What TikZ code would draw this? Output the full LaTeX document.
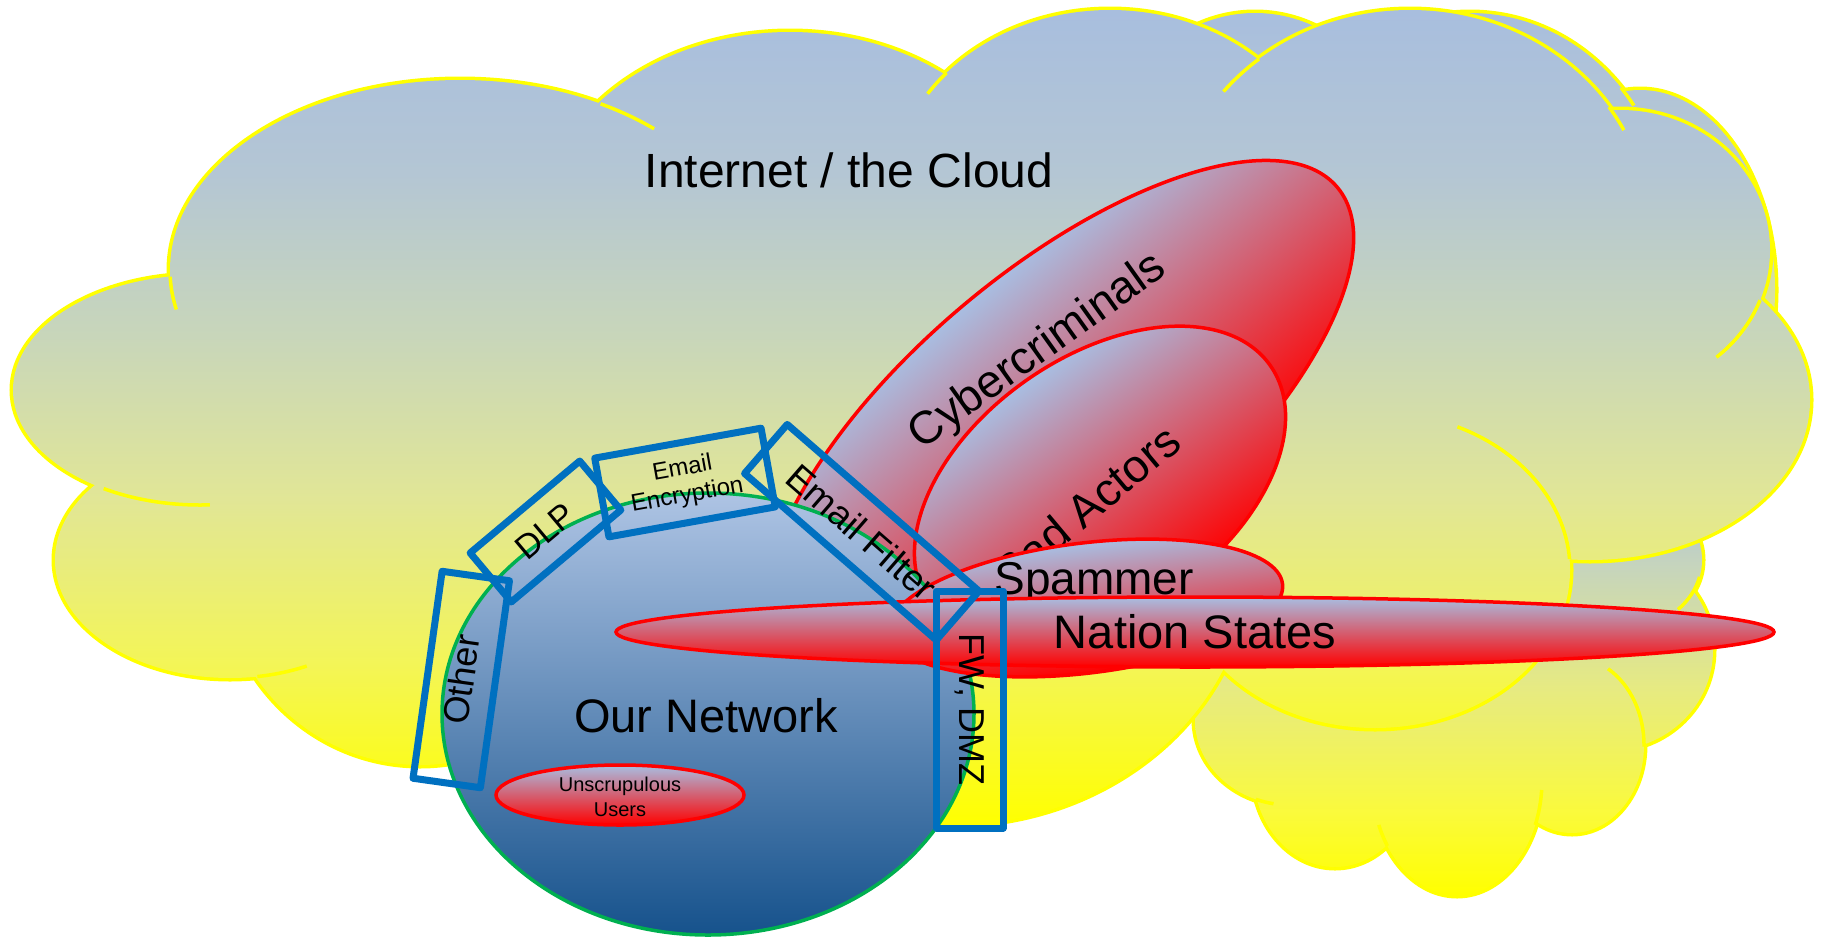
\documentclass[tikz,border=0pt]{standalone}
\usepackage{fontspec}
\setmainfont{Liberation Sans}
\usetikzlibrary{shapes.geometric}
\definecolor{cblue}{RGB}{168,190,222}
\definecolor{cyel}{RGB}{255,255,0}
\definecolor{boxblue}{RGB}{0,112,192}
\definecolor{netgreen}{RGB}{0,176,80}
\definecolor{nettop}{RGB}{174,196,228}
\definecolor{netmid}{RGB}{130,158,196}
\definecolor{netbot}{RGB}{22,82,140}
\definecolor{tblue}{RGB}{168,190,226}
\definecolor{tmid}{RGB}{222,132,152}
\definecolor{tred}{RGB}{255,0,0}
\pgfdeclareverticalshading{cloudsh}{100bp}{%
  color(0bp)=(cyel); color(25bp)=(cyel);
  color(35bp)=(rgb,255:red,243;green,245;blue,88);
  color(45bp)=(rgb,255:red,225;green,230;blue,150);
  color(55bp)=(rgb,255:red,200;green,214;blue,186);
  color(65bp)=(rgb,255:red,180;green,198;blue,212);
  color(75bp)=(cblue); color(100bp)=(cblue)}
\pgfdeclareverticalshading{cloudtwosh}{100bp}{%
  color(0bp)=(cyel); color(25bp)=(cyel);
  color(35bp)=(rgb,255:red,250;green,250;blue,60);
  color(50bp)=(rgb,255:red,230;green,234;blue,130);
  color(65bp)=(rgb,255:red,197;green,212;blue,190);
  color(75bp)=(cblue); color(100bp)=(cblue)}
\tikzset{
  cloudedge/.style={draw=cyel, line width=7pt},
  cloudstub/.style={draw=cyel, line width=3.5pt},
  threatfill/.style={top color=tblue, middle color=tmid, bottom color=tred},
  threatedge/.style={draw=tred, line width=3.5pt},
  ctrlbox/.style={rectangle, draw=boxblue, line width=7pt, inner sep=0pt, align=center, line join=round},
  lbl/.style={text=black, inner sep=0pt, align=center},
}
\begin{document}
\begin{tikzpicture}[x=1pt,y=-1pt]
\useasboundingbox (0,0) rectangle (1822,940);

% ---------------- back cloud (top right) ----------------
\foreach \cx/\cy/\rx/\ry in {1255/200/160/187,1470/230/200/217,1640/290/135/200,1450/350/280/200}
  {\draw[cloudedge] (\cx,\cy) ellipse [x radius=\rx, y radius=\ry];}
\shade[shading=cloudsh]
  (1255,200) ellipse [x radius=160, y radius=187]
  (1470,230) ellipse [x radius=200, y radius=217]
  (1640,290) ellipse [x radius=135, y radius=200]
  (1450,350) ellipse [x radius=280, y radius=200];
\draw[cloudstub] (1470,230) ++(-41:200 and 217) arc[start angle=-41, end angle=-35, x radius=200, y radius=217];

% ---------------- lower right cloud ----------------
\foreach \cx/\cy/\rx/\ry in {1290/720/95/85,1335/770/82/97,1457/780/85/115,1572/745/72/88,1610/650/103/100,1620/560/82/70,1450/650/200/170}
  {\draw[cloudedge] (\cx,\cy) ellipse [x radius=\rx, y radius=\ry];}
\shade[shading=cloudtwosh]
  (1290,720) ellipse [x radius=95, y radius=85]
  (1335,770) ellipse [x radius=82, y radius=97]
  (1457,780) ellipse [x radius=85, y radius=115]
  (1572,745) ellipse [x radius=72, y radius=88]
  (1610,650) ellipse [x radius=103, y radius=100]
  (1620,560) ellipse [x radius=82, y radius=70]
  (1450,650) ellipse [x radius=200, y radius=170];
\draw[cloudstub] (1290,720) ++(111:95 and 85) arc[start angle=111, end angle=100, x radius=95, y radius=85];
\draw[cloudstub] (1457,780) ++(145:85 and 115) arc[start angle=145, end angle=157, x radius=85, y radius=115];
\draw[cloudstub] (1457,780) ++(23:85 and 115) arc[start angle=23, end angle=5, x radius=85, y radius=115];
\draw[cloudstub] (1572,745) ++(1:72 and 88) arc[start angle=1, end angle=-60, x radius=72, y radius=88];
\draw[cloudstub] (1620,560) ++(14:82 and 70) arc[start angle=14, end angle=45, x radius=82, y radius=70];

% ---------------- main cloud ----------------
\foreach \cx/\cy/\rx/\ry in {460/270/290/190,790/230/250/198,1110/200/220/190,1410/230/240/220,1620/250/150/140,1590/400/220/160,1375/570/195/158,950/560/300/265,420/560/200/205,230/560/175/118,200/390/187/115,900/380/650/280}
  {\draw[cloudedge] (\cx,\cy) ellipse [x radius=\rx, y radius=\ry];}
\shade[shading=cloudsh]
  (460,270) ellipse [x radius=290, y radius=190]
  (790,230) ellipse [x radius=250, y radius=198]
  (1110,200) ellipse [x radius=220, y radius=190]
  (1410,230) ellipse [x radius=240, y radius=220]
  (1620,250) ellipse [x radius=150, y radius=140]
  (1590,400) ellipse [x radius=220, y radius=160]
  (1375,570) ellipse [x radius=195, y radius=158]
  (950,560) ellipse [x radius=300, y radius=265]
  (420,560) ellipse [x radius=200, y radius=205]
  (230,560) ellipse [x radius=175, y radius=118]
  (200,390) ellipse [x radius=187, y radius=115]
  (900,380) ellipse [x radius=650, y radius=280];
\draw[cloudstub] (200,390) ++(121:187 and 115) arc[start angle=121, end angle=87, x radius=187, y radius=115];
\draw[cloudstub] (230,560) ++(81:175 and 118) arc[start angle=81, end angle=64, x radius=175, y radius=118];
\draw[cloudstub] (460,270) ++(178:290 and 190) arc[start angle=178, end angle=168, x radius=290, y radius=190];
\draw[cloudstub] (460,270) ++(-61:290 and 190) arc[start angle=-61, end angle=-48, x radius=290, y radius=190];
\draw[cloudstub] (1110,200) ++(-138:220 and 190) arc[start angle=-138, end angle=-146, x radius=220, y radius=190];
\draw[cloudstub] (1410,230) ++(-129:240 and 220) arc[start angle=-129, end angle=-141, x radius=240, y radius=220];
\draw[cloudstub] (1410,230) ++(-34:240 and 220) arc[start angle=-34, end angle=-27, x radius=240, y radius=220];
\draw[cloudstub] (1620,250) ++(21:150 and 140) arc[start angle=21, end angle=50, x radius=150, y radius=140];
\draw[cloudstub] (1375,570) ++(-4:195 and 158) arc[start angle=-4, end angle=-65, x radius=195, y radius=158];

\node[lbl, anchor=base, font=\fontsize{48}{58}\selectfont] (inet) at (849,187) {Internet / the Cloud};

% ---------------- threat ellipses (behind network) ----------------
\begin{scope}[transform canvas={rotate around={40:(1060,420)}}]
  \path[threatfill, threatedge] (1060,420) ellipse [x radius=362, y radius=150];
\end{scope}
\node[lbl, rotate=35.5, font=\fontsize{46}{55}\selectfont] (cybert) at (1038,352) {Cybercriminals};

\begin{scope}[transform canvas={rotate around={35:(1100,485)}}]
  \path[threatfill, threatedge] (1100,485) ellipse [x radius=208, y radius=128];
\end{scope}
\node[lbl, rotate=40, font=\fontsize{46}{55}\selectfont] (badt) at (1087,506) {Bad Actors};

% ---------------- our network ----------------
\node[ellipse, minimum width=532pt, minimum height=442pt, inner sep=0pt,
      draw=netgreen, line width=3.5pt, top color=nettop, middle color=netmid, bottom color=netbot] (net) at (708,714) {};
\node[lbl, font=\fontsize{47}{56}\selectfont] (nett) at (706,716) {Our Network};

% ---------------- threats in front ----------------
\begin{scope}[transform canvas={rotate around={7:(1086,608)}}]
  \path[threatfill, threatedge] (1086,608) ellipse [x radius=198, y radius=65];
\end{scope}
\node[lbl, font=\fontsize{46}{55}\selectfont] (spamt) at (1094,583) {Spammer};

\path[threatfill, threatedge] (1195,632) ellipse [x radius=579, y radius=35];
\node[lbl, font=\fontsize{47}{56}\selectfont] (nst) at (1195,632) {Nation States};

\path[threatfill, threatedge] (620,795) ellipse [x radius=124, y radius=30];
\node[lbl, font=\fontsize{20}{25}\selectfont] (usert) at (620,797) {Unscrupulous\\Users};

% ---------------- controls ----------------
\node[ctrlbox, rotate=82, minimum width=209pt, minimum height=68pt, font=\fontsize{36}{42}\selectfont] (other) at (461.25,679.5) {Other};
\node[ctrlbox, rotate=40, minimum width=143pt, minimum height=64pt, font=\fontsize{34}{40}\selectfont] (dlp) at (545.5,531.5) {DLP};
\node[ctrlbox, rotate=10.2, minimum width=169pt, minimum height=80pt, font=\fontsize{24}{27}\selectfont] (encr) at (685,482.5) {Email\\Encryption};
\node[ctrlbox, rotate=-41, minimum width=254pt, minimum height=65pt, font=\fontsize{37}{44}\selectfont] (filter) at (861.75,532.25) {Email Filter};
\node[ctrlbox, rotate=-90, minimum width=237pt, minimum height=67pt, font=\fontsize{36}{42}\selectfont] (fw) at (969.5,709.5) {FW, DMZ};

\end{tikzpicture}
\end{document}
